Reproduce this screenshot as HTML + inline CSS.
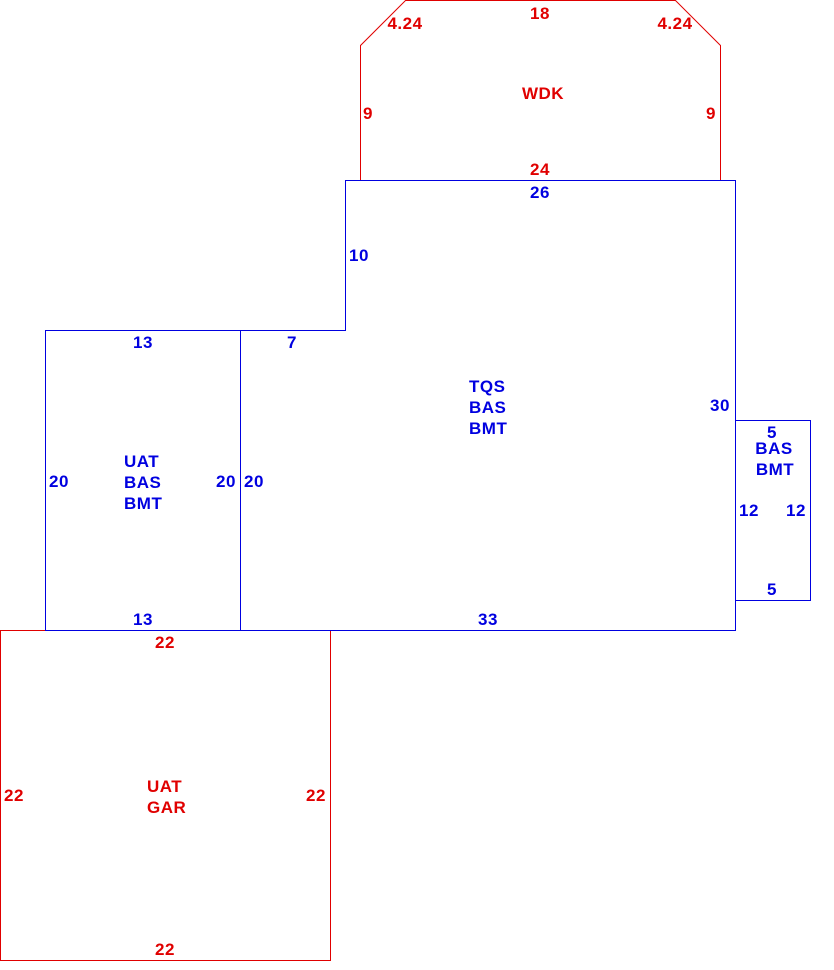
<!DOCTYPE html>
<html>
<head>
<meta charset="utf-8">
<style>
html,body{margin:0;padding:0;background:#fff;}
svg{display:block;}
text{font-family:"Liberation Sans",Arial,sans-serif;font-weight:bold;font-size:17px;letter-spacing:0.5px;}
.r{fill:#e00000;}
.b{fill:#0000e0;}
.c{text-anchor:middle;}
</style>
</head>
<body>
<svg width="834" height="970" viewBox="0 0 834 970" xmlns="http://www.w3.org/2000/svg">
<g fill="none" stroke-width="1">
  <polyline points="360.5,180.5 360.5,45.5 405.5,0.5 675.5,0.5 720.5,45.5 720.5,180.5" stroke="#e00000"/>
  <rect x="0.5" y="630.5" width="330" height="330" stroke="#e00000"/>
  <polyline points="240.5,330.5 345.5,330.5 345.5,180.5 735.5,180.5 735.5,630.5 240.5,630.5" stroke="#0000e0"/>
  <rect x="45.5" y="330.5" width="195" height="300" stroke="#0000e0"/>
  <polyline points="735.5,420.5 810.5,420.5 810.5,600.5 735.5,600.5" stroke="#0000e0"/>
</g>

<text class="r c" x="540" y="19">18</text>
<text class="r c" x="405" y="29">4.24</text>
<text class="r c" x="675" y="29">4.24</text>
<text class="r c" x="543" y="99">WDK</text>
<text class="r c" x="368" y="119">9</text>
<text class="r c" x="711" y="119">9</text>
<text class="r c" x="540" y="175">24</text>

<text class="b c" x="540" y="198">26</text>
<text class="b c" x="359" y="261">10</text>
<text class="b c" x="292" y="348">7</text>
<text class="b" x="469" y="392">TQS</text>
<text class="b" x="469" y="413">BAS</text>
<text class="b" x="469" y="434">BMT</text>
<text class="b c" x="720" y="411">30</text>
<text class="b c" x="254" y="487">20</text>
<text class="b c" x="488" y="625">33</text>

<text class="b c" x="772" y="438">5</text>
<text class="b c" x="774" y="454">BAS</text>
<text class="b c" x="775" y="475">BMT</text>
<text class="b c" x="749" y="516">12</text>
<text class="b c" x="796" y="516">12</text>
<text class="b c" x="772" y="595">5</text>

<text class="b c" x="143" y="348">13</text>
<text class="b" x="124" y="467">UAT</text>
<text class="b" x="124" y="488">BAS</text>
<text class="b" x="124" y="509">BMT</text>
<text class="b c" x="59" y="487">20</text>
<text class="b c" x="226" y="487">20</text>
<text class="b c" x="143" y="625">13</text>

<text class="r c" x="165" y="648">22</text>
<text class="r c" x="14" y="801">22</text>
<text class="r c" x="316" y="801">22</text>
<text class="r" x="147" y="792">UAT</text>
<text class="r" x="147" y="813">GAR</text>
<text class="r c" x="165" y="955">22</text>
</svg>
</body>
</html>
